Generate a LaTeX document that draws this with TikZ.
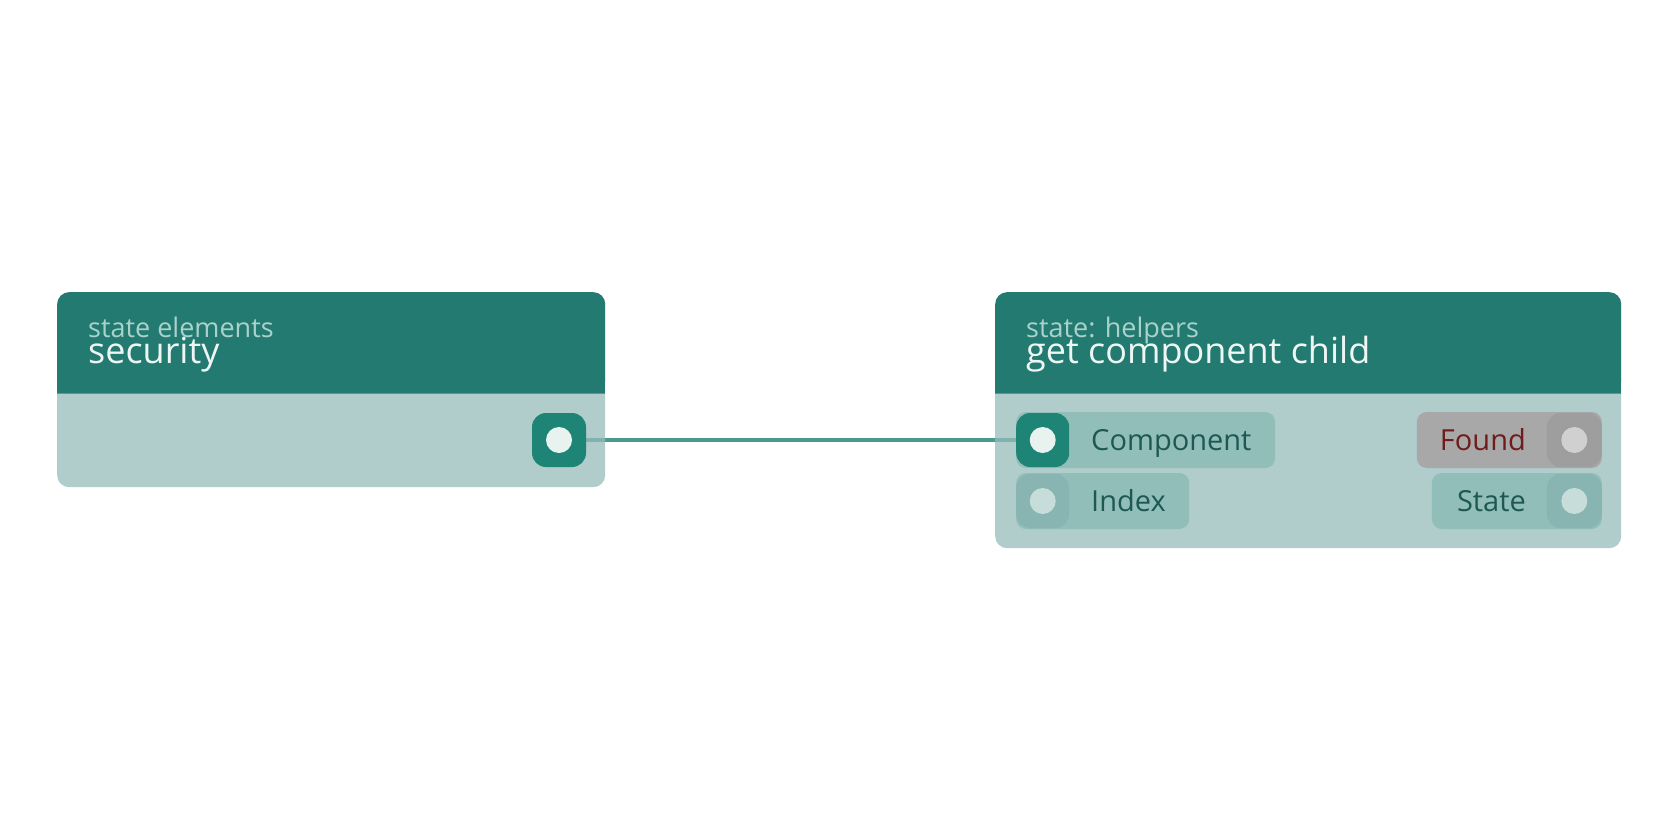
\documentclass[tikz,border=0pt]{standalone}
\usepackage{fontspec}
\setmainfont{Open Sans}
\usetikzlibrary{positioning}
\pgfdeclarelayer{background}
\pgfsetlayers{background,main}

\definecolor{headteal}{RGB}{35,122,112}
\definecolor{bodyteal}{RGB}{150,187,186}
\definecolor{pillteal}{RGB}{146,190,186}
\definecolor{portteal}{RGB}{30,132,118}
\definecolor{portidle}{RGB}{136,180,177}
\definecolor{dotlight}{RGB}{232,243,240}
\definecolor{dotidle}{RGB}{198,221,218}
\definecolor{pillgray}{RGB}{168,168,168}
\definecolor{portgray}{RGB}{158,158,158}
\definecolor{dotgray}{RGB}{208,208,208}
\definecolor{labelteal}{RGB}{29,88,83}
\definecolor{labelred}{RGB}{110,28,28}
\definecolor{subtext}{RGB}{170,210,204}
\definecolor{titletext}{RGB}{238,246,244}
\definecolor{wireteal}{RGB}{74,154,144}
\definecolor{septeal}{RGB}{84,156,146}

\begin{document}
\begin{tikzpicture}[x=1pt,y=-1pt,
    body/.style={rectangle,rounded corners=12pt,fill=bodyteal,fill opacity=0.75,inner sep=0pt,anchor=north west},
    head/.style={rectangle,rounded corners=12pt,fill=headteal,inner sep=0pt,anchor=north west,minimum height=101pt},
    subtitle/.style={inner sep=0pt,anchor=base west,text=subtext,font=\fontsize{27}{30}\selectfont},
    title/.style={inner sep=0pt,anchor=base west,text=titletext,font=\fontsize{36}{40}\selectfont},
    pill/.style={rectangle,rounded corners=10pt,fill=pillteal,inner sep=0pt,minimum height=56pt},
    port/.style={rectangle,rounded corners=14pt,fill=portidle,inner sep=0pt,minimum width=53pt,minimum height=54pt},
    dot/.style={circle,fill=dotidle,inner sep=0pt,minimum size=26pt},
    label/.style={inner sep=0pt,text=labelteal,font=\fontsize{29}{32}\selectfont},
    wire/.style={draw=wireteal,line width=3.5pt},
    sepline/.style={draw=septeal,line width=1.5pt}
]
\useasboundingbox (0,0) rectangle (1680,840);

% Node: security
\node[body,minimum width=548pt,minimum height=195pt] (secbody) at (57,292) {};
\node[head,minimum width=548pt] (sechead) at (57,292) {};
\fill[headteal] ([yshift=12pt]sechead.south west) rectangle (sechead.south east);
\draw[sepline] (sechead.south west) -- (sechead.south east);
\node[subtitle] (secsub) at (88,337) {state elements};
\node[title] (sectitle) at (88,363) {security};
\node[port,fill=portteal,minimum width=54pt] (secout) at (559,440) {};
\node[dot,fill=dotlight] (secoutdot) at (secout.center) {};

% Node: get component child
\node[body,minimum width=626pt,minimum height=256pt] (gccbody) at (995,292) {};
\node[head,minimum width=626pt] (gcchead) at (995,292) {};
\fill[headteal] ([yshift=12pt]gcchead.south west) rectangle (gcchead.south east);
\draw[sepline] (gcchead.south west) -- (gcchead.south east);
\node[subtitle] (gccsub) at (1026,337) {state: helpers};
\node[title] (gcctitle) at (1026,363) {get component child};

% Inputs
\node[pill,anchor=west,minimum width=259pt] (comppill) at (1016,440) {};
\node[port,fill=portteal,anchor=west] (compin) at (comppill.west) {};
\node[dot,fill=dotlight] (compindot) at (compin.center) {};
\node[label,anchor=base west] (complabel) at (1091,450.5) {Component};

\node[pill,anchor=west,minimum width=173pt] (idxpill) at (1016,501) {};
\node[port,anchor=west] (idxin) at (idxpill.west) {};
\node[dot] (idxindot) at (idxin.center) {};
\node[label,anchor=base west] (idxlabel) at (1091,511) {Index};

% Outputs
\node[pill,fill=pillgray,anchor=east,minimum width=185pt] (foundpill) at (1602,440) {};
\node[port,fill=portgray,anchor=east,minimum width=55pt] (foundout) at (foundpill.east) {};
\node[dot,fill=dotgray] (foundoutdot) at (foundout.center) {};
\node[label,anchor=base east,text=labelred] (foundlabel) at (1526,450.5) {Found};

\node[pill,anchor=east,minimum width=170pt] (statepill) at (1602,501) {};
\node[port,anchor=east,minimum width=55pt] (stateout) at (statepill.east) {};
\node[dot] (stateoutdot) at (stateout.center) {};
\node[label,anchor=base east] (statelabel) at (1526,511) {State};

% Connector (under the node bodies)
\begin{pgfonlayer}{background}
\fill[white] (0,0) rectangle (1680,840);
\draw[wire] (secout) -- (compin);
\end{pgfonlayer}

\end{tikzpicture}
\end{document}
